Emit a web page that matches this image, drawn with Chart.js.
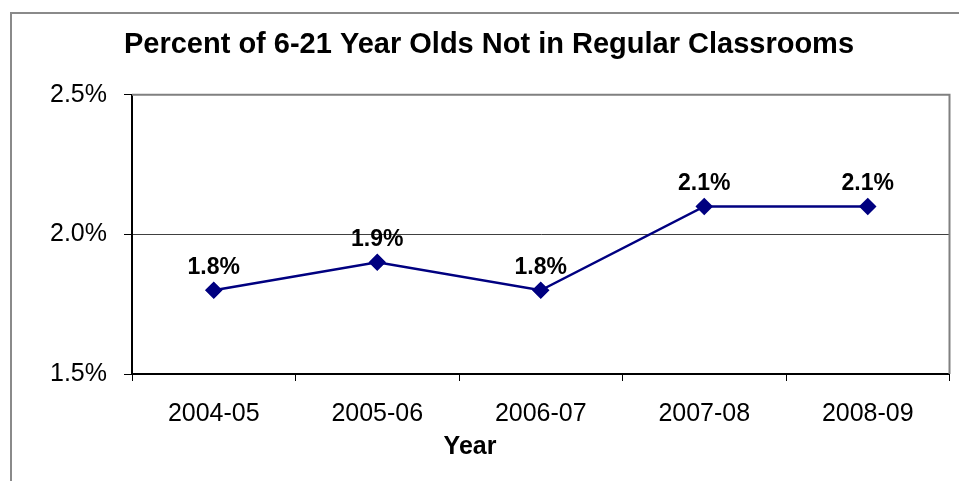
<!DOCTYPE html>
<html>
<head>
<meta charset="utf-8">
<script src="https://cdn.jsdelivr.net/npm/chart.js@4.4.1/dist/chart.umd.min.js"></script>
<style>
  body { margin: 0; background: #fff; }
  #wrap { position: relative; width: 959px; height: 481px; }
  #frame {
    position: absolute; left: 10px; top: 12px; right: -5px; bottom: -5px;
    border-left: 2px solid #8a8a8a; border-top: 2px solid #8a8a8a;
    pointer-events: none;
  }
</style>
</head>
<body>
<div id="wrap">
  <canvas id="classroomChart" width="959" height="481"></canvas>
  <div id="frame"></div>
</div>
<script>
const years = ["2004-05", "2005-06", "2006-07", "2007-08", "2008-09"];
const pctNotRegular = [1.8, 1.9, 1.8, 2.1, 2.1];
const yMin = 1.5;
const yMax = 2.5;
const yStep = 0.5;

Chart.defaults.font.family = "'Liberation Sans', Arial, sans-serif";
Chart.defaults.color = "#000";

// value labels above each point
const pointLabels = {
  id: "pointLabels",
  afterDatasetsDraw(chart) {
    const ctx = chart.ctx;
    const meta = chart.getDatasetMeta(0);
    ctx.save();
    ctx.font = "bold 23px 'Liberation Sans', Arial, sans-serif";
    ctx.fillStyle = "#000";
    ctx.textAlign = "center";
    ctx.textBaseline = "middle";
    meta.data.forEach((pt, i) => {
      ctx.fillText(pctNotRegular[i].toFixed(1) + "%", pt.x, pt.y - 23);
    });
    ctx.restore();
  }
};

// gray top/right edge of the plot area + the "Year" caption
const plotFrame = {
  id: "plotFrame",
  afterDraw(chart) {
    const { ctx, chartArea } = chart;
    ctx.save();
    ctx.strokeStyle = "#808080";
    ctx.lineWidth = 2;
    ctx.beginPath();
    ctx.moveTo(chartArea.left, chartArea.top);
    ctx.lineTo(chartArea.right, chartArea.top);
    ctx.lineTo(chartArea.right, chartArea.bottom);
    ctx.stroke();

    ctx.font = "bold 25px 'Liberation Sans', Arial, sans-serif";
    ctx.fillStyle = "#000";
    ctx.textAlign = "center";
    ctx.textBaseline = "middle";
    ctx.fillText("Year", 470, 447);
    ctx.restore();
  }
};

new Chart(document.getElementById("classroomChart"), {
  type: "line",
  data: {
    labels: years,
    datasets: [{
      data: pctNotRegular,
      borderColor: "#000080",
      backgroundColor: "#000080",
      borderWidth: 2.5,
      pointStyle: "rectRot",
      pointRadius: 7,
      pointHoverRadius: 7,
      tension: 0,
      fill: false
    }]
  },
  options: {
    responsive: false,
    animation: false,
    layout: { padding: { left: 27, right: 8, top: 0, bottom: 0 } },
    plugins: {
      legend: { display: false },
      tooltip: { enabled: false },
      title: {
        display: true,
        text: "Percent of 6-21 Year Olds Not in Regular Classrooms",
        font: { size: 29, weight: "bold" },
        color: "#000",
        padding: { top: 28, bottom: 32 }
      }
    },
    scales: {
      x: {
        offset: true,
        grid: {
          offset: true,
          drawOnChartArea: false,
          tickLength: 7,
          tickColor: "#000"
        },
        border: { color: "#000", width: 2 },
        ticks: { font: { size: 25 }, padding: 18, maxRotation: 0 },
        afterFit(scale) { scale.height = 107; }
      },
      y: {
        min: yMin,
        max: yMax,
        grid: {
          color: (c) => (c.tick && c.tick.value === yMax ? "rgba(0,0,0,0)" : "#404040"),
          lineWidth: 1,
          tickLength: 8,
          tickColor: "#000"
        },
        border: { color: "#000", width: 2 },
        ticks: {
          stepSize: yStep,
          font: { size: 25 },
          padding: 17,
          callback: (v) => v.toFixed(1) + "%"
        },
        afterFit(scale) { scale.width = 105; }
      }
    }
  },
  plugins: [pointLabels, plotFrame]
});
</script>
</body>
</html>
